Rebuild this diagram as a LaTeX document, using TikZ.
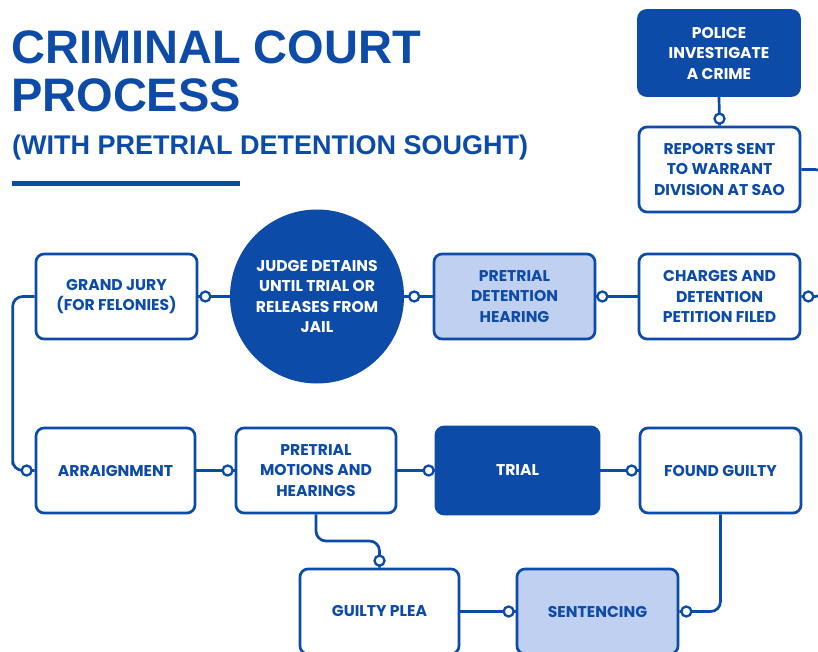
\documentclass[tikz,border=0pt]{standalone}
\usepackage{fontspec}
\usetikzlibrary{calc}
\newfontfamily\popfont{Poppins}
\newfontfamily\headfont{Liberation Sans}
\definecolor{cblue}{RGB}{12,75,168}
\definecolor{clight}{RGB}{192,208,240}
\begin{document}
\begin{tikzpicture}[x=1pt,y=-1pt,
  box/.style={draw=cblue, line width=2.7pt, rounded corners=8pt, minimum width=161pt, minimum height=85pt, align=center, text=cblue, font=\popfont\bfseries\fontsize{15.6}{20.5}\selectfont, inner sep=0pt},
  darkbox/.style={box, fill=cblue, text=white},
  lightbox/.style={box, fill=clight},
  link/.style={draw=cblue, line width=2.7pt, rounded corners=10pt},
  dot/.style={circle, draw=cblue, fill=white, line width=2.3pt, inner sep=0pt, minimum size=10pt},
  title/.style={anchor=base west, text=cblue, inner sep=0pt}]
\useasboundingbox (0,0) rectangle (818,652);
\fill[white] (0,0) rectangle (818,652);
\clip (0,0) rectangle (818,652);
% title
\node[title, font=\headfont\bfseries\fontsize{47}{47}\selectfont] (t1) at (11,64) {CRIMINAL COURT};
\node[title, font=\headfont\bfseries\fontsize{47}{47}\selectfont] (t2) at (11,112) {PROCESS};
\node[title, font=\headfont\bfseries\fontsize{27}{27}\selectfont] (t3) at (12,155) {(WITH PRETRIAL DETENTION SOUGHT)};
\fill[cblue] (12,181) rectangle (240,186);
% nodes
\node[darkbox] (police) at (719,53) {POLICE\\INVESTIGATE\\A CRIME};
\node[box] (reports) at (719.5,169.5) {REPORTS SENT\\TO WARRANT\\DIVISION AT SAO};
\node[box] (charges) at (719.5,296.5) {CHARGES AND\\DETENTION\\PETITION FILED};
\node[lightbox] (pdh) at (514.5,296.5) {PRETRIAL\\DETENTION\\HEARING};
\node[circle, fill=cblue, text=white, minimum size=174pt, inner sep=0pt, align=center, font=\popfont\bfseries\fontsize{15.6}{20.5}\selectfont] (judge) at (317,296.5) {JUDGE DETAINS\\UNTIL TRIAL OR\\RELEASES FROM\\JAIL};
\node[box] (grand) at (116.5,296.5) {GRAND JURY\\(FOR FELONIES)};
\node[box, minimum width=159pt] (arraign) at (115.5,470.5) {ARRAIGNMENT};
\node[box, minimum width=160pt] (motions) at (316,470.5) {PRETRIAL\\MOTIONS AND\\HEARINGS};
\node[darkbox, minimum width=163pt, minimum height=87pt] (trial) at (517.5,470.5) {TRIAL};
\node[box] (found) at (720.5,470.5) {FOUND GUILTY};
\node[box, minimum width=159pt] (plea) at (379.5,611.5) {GUILTY PLEA};
\node[lightbox] (sent) at (597.5,611.5) {SENTENCING};
% connectors
\draw[link] (police.south) -- (reports.north);
\node[dot] (d1) at ([yshift=7pt]reports.north) {};
\draw[link] (reports.east) -| ([xshift=24pt]charges.east) |- (charges.east);
\node[dot] (d2) at ([xshift=7pt]charges.east) {};
\draw[link] (charges.west) -- (pdh.east);
\node[dot] (d3) at ([xshift=6pt]pdh.east) {};
\draw[link] (pdh.west) -- (judge.east);
\node[dot] (d4) at ([xshift=10pt]judge.east) {};
\draw[link] (judge.west) -- (grand.east);
\node[dot] (d5) at ([xshift=7pt]grand.east) {};
\draw[link] (grand.west) -| ([xshift=-22pt]arraign.west) |- (arraign.west);
\node[dot] (d6) at ([xshift=-8pt]arraign.west) {};
\draw[link] (arraign.east) -- (motions.west);
\node[dot] (d7) at ([xshift=-7pt]motions.west) {};
\draw[link] (motions.east) -- (trial.west);
\node[dot] (d8) at ([xshift=-6pt]trial.west) {};
\draw[link] (trial.east) -- (found.west);
\node[dot] (d9) at ([xshift=-7pt]found.west) {};
\draw[link] (motions.south) |- ($(motions.south)!0.5!(plea.north)$) -| (plea.north);
\node[dot] (d10) at ([yshift=7pt]plea.north) {};
\draw[link] (plea.east) -- (sent.west);
\node[dot] (d11) at ([xshift=-7pt]sent.west) {};
\draw[link] (found.south) |- (sent.east);
\node[dot] (d12) at ([xshift=7pt]sent.east) {};
\end{tikzpicture}
\end{document}
